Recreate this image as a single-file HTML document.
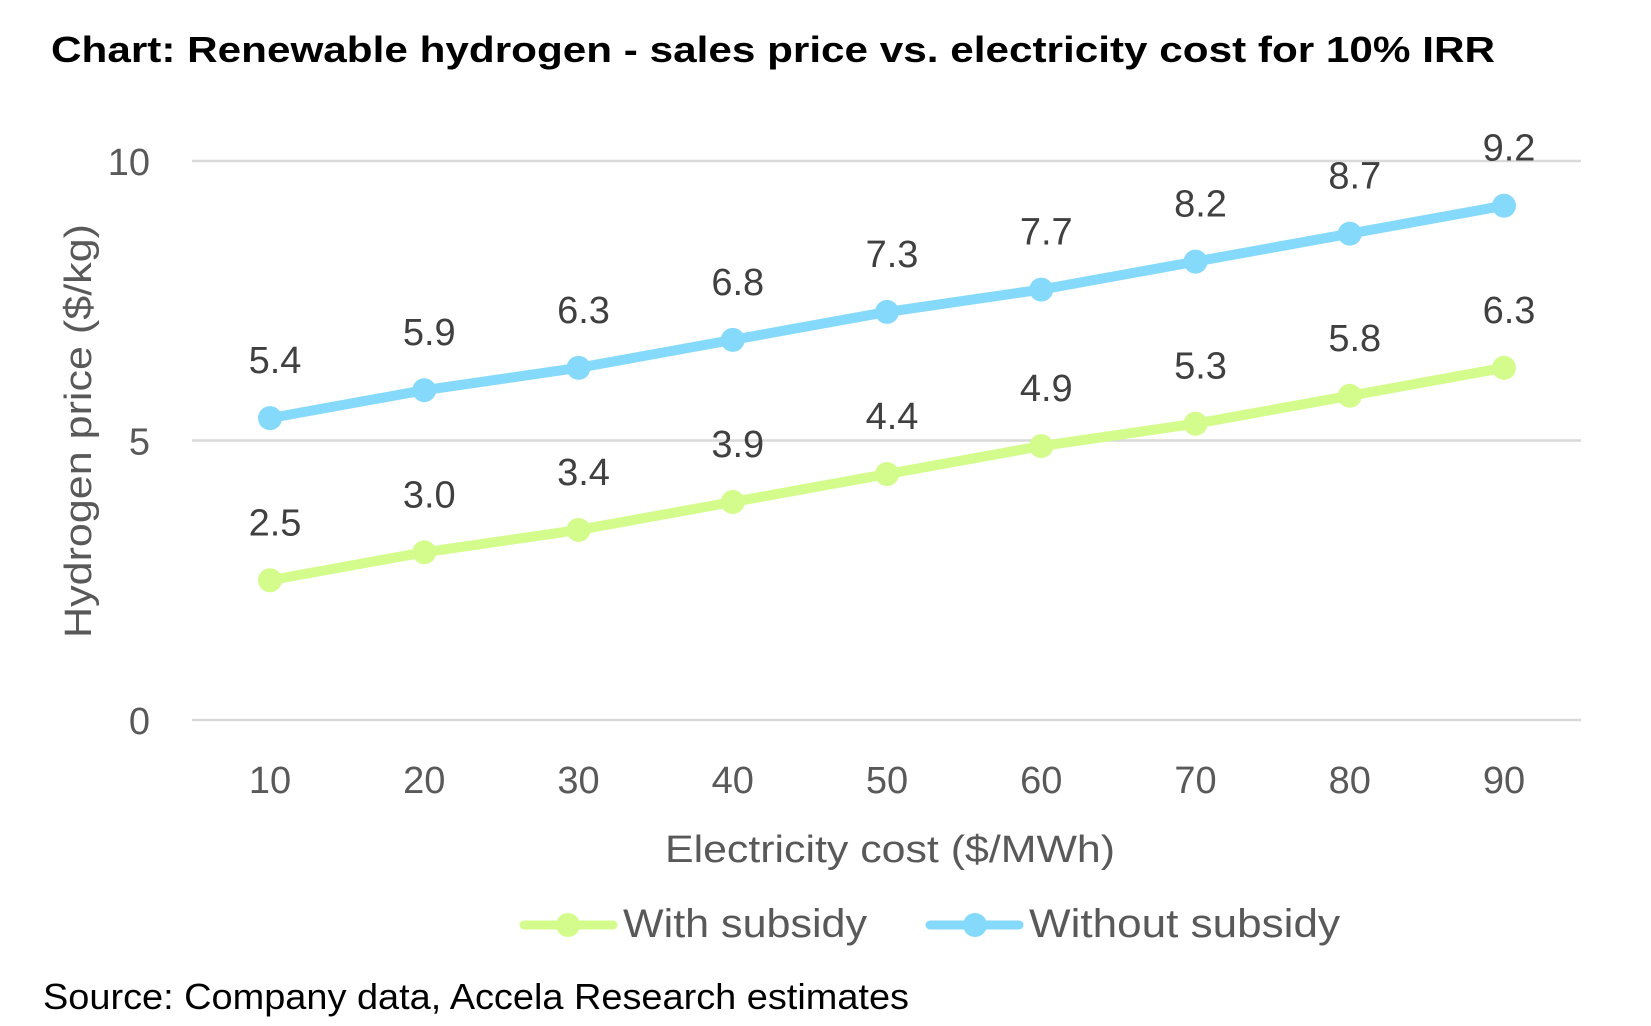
<!DOCTYPE html>
<html><head><meta charset="utf-8"><style>
html,body{margin:0;padding:0;background:#fff;width:1651px;height:1026px;overflow:hidden;font-family:"Liberation Sans",sans-serif}
</style></head><body>
<svg width="1651" height="1026" xmlns="http://www.w3.org/2000/svg" id="chart">
<text x="51" y="62" font-size="36" font-weight="bold" fill="#000" textLength="1444" lengthAdjust="spacingAndGlyphs">Chart: Renewable hydrogen - sales price vs. electricity cost for 10% IRR</text>
<g id="grid"></g>
<g id="xt"></g>
<text x="890" y="862" font-size="38" fill="#595959" text-anchor="middle" textLength="450" lengthAdjust="spacingAndGlyphs">Electricity cost ($/MWh)</text>
<text transform="translate(91,431) rotate(-90)" font-size="38" fill="#595959" text-anchor="middle" textLength="414" lengthAdjust="spacingAndGlyphs">Hydrogen price ($/kg)</text>
<g id="series"></g>
<g>
<g>
<line x1="524" y1="925" x2="613" y2="925" stroke="#d4fc8c" stroke-width="9" stroke-linecap="round"/>
<circle cx="568" cy="925" r="12" fill="#d4fc8c"/>
<text x="623" y="937" font-size="40" fill="#595959" textLength="244" lengthAdjust="spacingAndGlyphs">With subsidy</text>
</g>
<g>
<line x1="930" y1="925" x2="1019" y2="925" stroke="#85dafc" stroke-width="9" stroke-linecap="round"/>
<circle cx="975" cy="925" r="12" fill="#85dafc"/>
<text x="1029" y="937" font-size="40" fill="#595959" textLength="311" lengthAdjust="spacingAndGlyphs">Without subsidy</text>
</g>
</g>
<text x="43" y="1009" font-size="36" fill="#000" textLength="866" lengthAdjust="spacingAndGlyphs">Source: Company data, Accela Research estimates</text>
</svg>
<script>
const categories=[10,20,30,40,50,60,70,80,90];
const withSubsidy=[2.5,3.0,3.4,3.9,4.4,4.9,5.3,5.8,6.3];
const withoutSubsidy=[5.4,5.9,6.3,6.8,7.3,7.7,8.2,8.7,9.2];
const yTicks=[0,5,10];
const NS='http://www.w3.org/2000/svg';
const X0=192,X1=1581,Y0=720,Y10=161;
function xs(i){return 270+i*(1504-270)/(categories.length-1);}
function ys(v){return Y0-(v/10)*(Y0-Y10);}
function mk(t,a,p){const e=document.createElementNS(NS,t);for(const k in a)e.setAttribute(k,a[k]);p.appendChild(e);return e;}
const grid=document.getElementById('grid');
yTicks.forEach(t=>{
 const l=mk('line',{x1:X0,x2:X1,y1:ys(t),y2:ys(t),stroke:'#d9d9d9','stroke-width':2.5},grid);
 
 
 const tx=mk('text',{x:150,y:ys(t)+14,'font-size':38,fill:'#595959','text-anchor':'end'},grid);
 tx.textContent=t;
 
 
});
const xt=document.getElementById('xt');
categories.forEach((c,i)=>{
 const tx=mk('text',{x:xs(i),y:793,'font-size':38,fill:'#595959','text-anchor':'middle'},xt);
 tx.textContent=c;
 
 
});
const sg=document.getElementById('series');
function draw(vals,color,name){
 const g=mk('g',{},sg);
 
 
 const pl=mk('polyline',{points:vals.map((v,i)=>xs(i)+','+ys(v)).join(' '),fill:'none',stroke:color,'stroke-width':10,'stroke-linejoin':'round'},g);
 
 
 vals.forEach((v,i)=>{
  const c=mk('circle',{cx:xs(i),cy:ys(v),r:12,fill:color},g);
  
  
  const t=mk('text',{x:xs(i)+5,y:ys(v)-45,'font-size':38,fill:'#404040','text-anchor':'middle'},g);
  t.textContent=v.toFixed(1);
  
  
 });
}
draw(withSubsidy,'#d4fc8c','with-subsidy');
draw(withoutSubsidy,'#85dafc','without-subsidy');
</script>
</body></html>
